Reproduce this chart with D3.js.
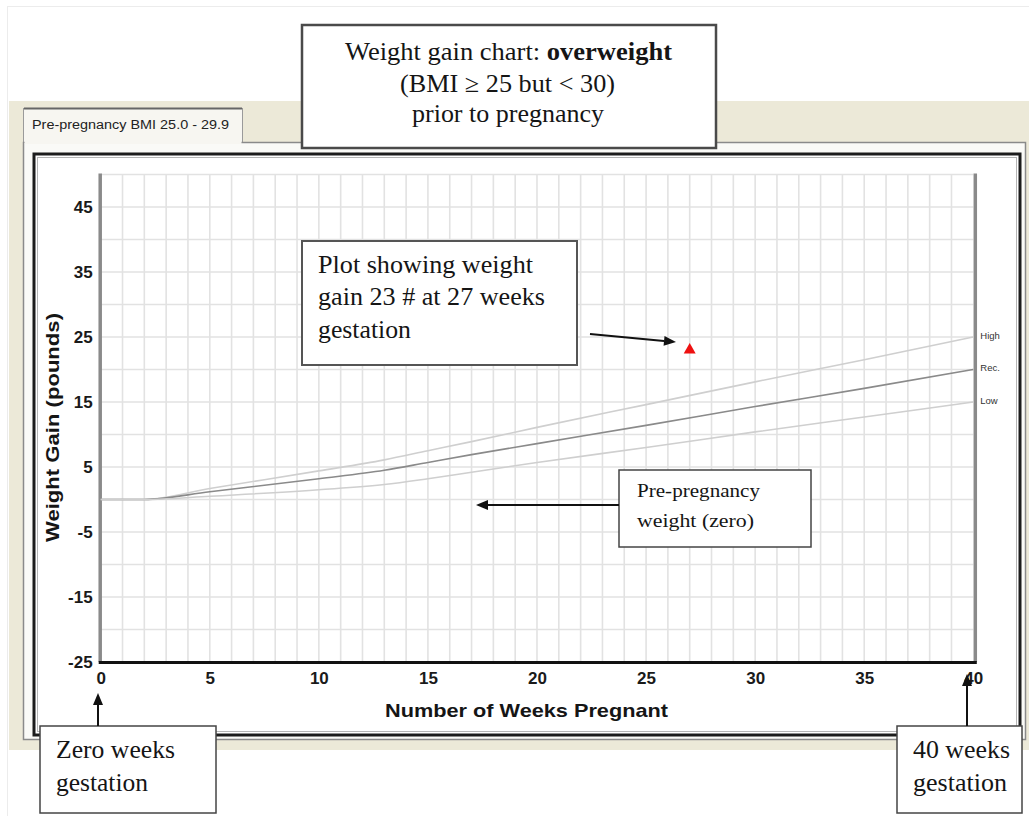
<!DOCTYPE html>
<html>
<head>
<meta charset="utf-8">
<script src="https://cdn.jsdelivr.net/npm/d3@7"></script>
<style>
  body { margin: 0; background: #fff; }
  svg { display: block; }
</style>
</head>
<body>
<div id="chart"></div>
<script>
// weight gain curves
var weeks    = [0, 2, 5, 10, 13, 15, 17, 20, 25, 30, 35, 40];
var highGain = [0, 0, 1.7, 4.4, 6.1, 7.5, 8.9, 11.1, 14.6, 18.1, 21.5, 25];
var recGain  = [0, 0, 1.2, 3.2, 4.5, 5.7, 6.9, 8.6, 11.4, 14.3, 17.1, 20];
var lowGain  = [0, 0, 0.5, 1.5, 2.3, 3.2, 4.2, 5.7, 8.0, 10.4, 12.7, 15];
var seriesNames = ['High', 'Rec.', 'Low'];

// the patient's plotted weight
var plotWeeks = [27];
var plotGains = [23];

var xTickLabels = [0, 5, 10, 15, 20, 25, 30, 35, 40];
var yTickLabels = [45, 35, 25, 15, 5, -5, -15, -25];

var width = 1029, height = 816;
var serif = '"Liberation Serif", "Times New Roman", serif';
var sans = '"Liberation Sans", Arial, sans-serif';

var svg = d3.select('#chart').append('svg')
  .attr('width', width)
  .attr('height', height);

var x = d3.scaleLinear().domain([0, 40]).range([100.7, 973.3]);
var y = d3.scaleLinear().domain([-25, 50]).range([662, 174.5]);

// helper for text lines
function label(g, px, py, str, size, len, opts) {
  opts = opts || {};
  var t = g.append('text')
    .attr('x', px)
    .attr('y', py)
    .style('font-family', opts.family || serif)
    .style('font-size', size + 'px')
    .style('font-weight', opts.weight || 'normal')
    .style('fill', opts.fill || '#151515')
    .attr('text-anchor', opts.anchor || 'start')
    .text(str);
  if (len) t.attr('textLength', len).attr('lengthAdjust', 'spacingAndGlyphs');
  return t;
}

function arrow(g, x1, y1, x2, y2) {
  var a = Math.atan2(y2 - y1, x2 - x1), L = 12, W = 5;
  var bx = x2 - L * Math.cos(a), by = y2 - L * Math.sin(a);
  g.append('line')
    .attr('x1', x1).attr('y1', y1).attr('x2', bx).attr('y2', by)
    .style('stroke', '#111').style('stroke-width', 2);
  g.append('path')
    .attr('d', 'M' + x2 + ',' + y2 +
      'L' + (bx + W * Math.sin(a)) + ',' + (by - W * Math.cos(a)) +
      'L' + (bx - W * Math.sin(a)) + ',' + (by + W * Math.cos(a)) + 'Z')
    .style('fill', '#111');
}

// window background
svg.append('rect')
  .attr('x', 7.5).attr('y', 6.5).attr('width', 1040).attr('height', 900)
  .style('fill', '#fff').style('stroke', '#ececec');

svg.append('rect')
  .attr('x', 9).attr('y', 101).attr('width', 1025).attr('height', 649)
  .style('fill', '#ece9d8');

// tab
svg.append('rect')
  .attr('x', 23.5).attr('y', 108.5).attr('width', 219).attr('height', 36)
  .style('fill', '#f7f6f1').style('stroke', '#9a9a9a');
svg.append('line')
  .attr('x1', 24).attr('x2', 242).attr('y1', 108.5).attr('y2', 108.5)
  .style('stroke', '#666').style('stroke-width', 2);
label(svg, 32, 129, 'Pre-pregnancy BMI 25.0 - 29.9', 12.5, 197, { family: sans, fill: '#222' });

// tab panel and chart frame
svg.append('rect')
  .attr('x', 23.5).attr('y', 142.5).attr('width', 1002).attr('height', 597)
  .style('fill', '#fafaf7').style('stroke', '#8a8a8a').style('stroke-width', 1.5);
svg.append('rect')
  .attr('x', 24.5).attr('y', 138).attr('width', 217).attr('height', 6)
  .style('fill', '#f7f6f1');
svg.append('rect')
  .attr('x', 34).attr('y', 154).attr('width', 986).attr('height', 581)
  .style('fill', '#fff').style('stroke', '#1c1c1c').style('stroke-width', 3);
svg.append('rect')
  .attr('x', 37.5).attr('y', 157.5).attr('width', 979).attr('height', 574)
  .style('fill', 'none').style('stroke', '#b5b5b5').style('stroke-width', 1);

// grid
var grid = svg.append('g');
grid.selectAll('.vg').data(d3.range(1, 40)).enter().append('line')
  .attr('x1', function(d) { return x(d); })
  .attr('x2', function(d) { return x(d); })
  .attr('y1', y(50)).attr('y2', y(-25))
  .style('stroke', '#e2e2e2').style('stroke-width', 1.6);
grid.selectAll('.hg').data(d3.range(-20, 55, 5)).enter().append('line')
  .attr('x1', x(0)).attr('x2', x(40))
  .attr('y1', function(d) { return y(d); })
  .attr('y2', function(d) { return y(d); })
  .style('stroke', '#e2e2e2').style('stroke-width', 1.6);

// axes lines
svg.append('line')
  .attr('x1', x(0) - 0.5).attr('x2', x(0) - 0.5).attr('y1', y(50) - 1).attr('y2', y(-25))
  .style('stroke', '#8a8a8a').style('stroke-width', 3.5);
svg.append('line')
  .attr('x1', x(40) + 2).attr('x2', x(40) + 2).attr('y1', y(50) - 1).attr('y2', y(-25))
  .style('stroke', '#8a8a8a').style('stroke-width', 3.5);
svg.append('line')
  .attr('x1', x(0) - 2).attr('x2', x(40) + 3.5).attr('y1', y(-25) + 0.5).attr('y2', y(-25) + 0.5)
  .style('stroke', '#111').style('stroke-width', 3);

// tick labels (plain hyphen for negatives, as in the original)
var fmt = function(d) { return String(d); };
var xAxis = svg.append('g')
  .attr('transform', 'translate(0,' + (y(-25) + 3) + ')')
  .call(d3.axisBottom(x).tickValues(xTickLabels).tickFormat(fmt).tickSize(0).tickPadding(3));
var yAxis = svg.append('g')
  .attr('transform', 'translate(' + (x(0) - 8) + ',0)')
  .call(d3.axisLeft(y).tickValues(yTickLabels).tickFormat(fmt).tickSize(0).tickPadding(0));
[xAxis, yAxis].forEach(function(ax) {
  ax.select('.domain').remove();
  ax.selectAll('text')
    .style('font-family', sans)
    .style('font-size', '17px')
    .style('font-weight', 'bold')
    .style('fill', '#1a1a1a');
});
xAxis.selectAll('text').attr('dy', '0.95em');

// axis titles
label(svg, 385, 717, 'Number of Weeks Pregnant', 18.5, 283, { family: sans, weight: 'bold' });
label(svg, 0, 0, 'Weight Gain (pounds)', 18.5, 229, { family: sans, weight: 'bold', anchor: 'middle' })
  .attr('transform', 'translate(59,427.5) rotate(-90)');

// curves
var series = [highGain, recGain, lowGain];
var colors = ['#cfcfcf', '#8a8a8a', '#cfcfcf'];
var line = d3.line()
  .x(function(d, i) { return x(weeks[i]); })
  .y(function(d) { return y(d); })
  .curve(d3.curveMonotoneX);

svg.selectAll('.curve').data(series).enter().append('path')
  .attr('d', line)
  .style('fill', 'none')
  .style('stroke', function(d, i) { return colors[i]; })
  .style('stroke-width', 1.6);

svg.selectAll('.sname').data(series).enter().append('text')
  .attr('x', x(40) + 7)
  .attr('y', function(d) { return y(d[d.length - 1]) + 1.5; })
  .style('font-family', sans)
  .style('font-size', '9.5px')
  .style('fill', '#333')
  .text(function(d, i) { return seriesNames[i]; });

// plotted point
svg.selectAll('.pt').data(plotWeeks).enter().append('path')
  .attr('d', d3.symbol().type(d3.symbolTriangle).size(62))
  .attr('transform', function(d, i) { return 'translate(' + x(d) + ',' + y(plotGains[i]) + ')'; })
  .style('fill', '#ee1111');

// title box
var tb = svg.append('g');
tb.append('rect')
  .attr('x', 302).attr('y', 25).attr('width', 414).attr('height', 123)
  .style('fill', '#fff').style('stroke', '#4a4a4a').style('stroke-width', 2.5);
var t1 = label(tb, 345, 60, '', 25, 327);
t1.append('tspan').text('Weight gain chart: ');
t1.append('tspan').style('font-weight', 'bold').text('overweight');
label(tb, 400, 92, '(BMI \u2265 25 but < 30)', 25, 215);
label(tb, 412, 122, 'prior to pregnancy', 25, 192);

// annotation: plot
var a1 = svg.append('g');
a1.append('rect')
  .attr('x', 302).attr('y', 241).attr('width', 275).attr('height', 124)
  .style('fill', '#fff').style('stroke', '#555').style('stroke-width', 2);
label(a1, 318, 273, 'Plot showing weight', 25, 215);
label(a1, 318, 305, 'gain 23 # at 27 weeks', 25, 227);
label(a1, 318, 338, 'gestation', 25, 93);
arrow(svg, 590, 334, 676, 342);

// annotation: zero line
var a2 = svg.append('g');
a2.append('rect')
  .attr('x', 619).attr('y', 470).attr('width', 192).attr('height', 77)
  .style('fill', '#fff').style('stroke', '#444').style('stroke-width', 1.5);
label(a2, 637, 497, 'Pre-pregnancy', 19, 123);
label(a2, 637, 527, 'weight (zero)', 19, 117);
arrow(svg, 619, 505, 476, 505);

// bottom notes
var a3 = svg.append('g');
a3.append('rect')
  .attr('x', 40).attr('y', 726).attr('width', 176).attr('height', 87)
  .style('fill', '#fff').style('stroke', '#444').style('stroke-width', 1.5);
label(a3, 56, 758, 'Zero weeks', 25, 119);
label(a3, 56, 791, 'gestation', 25, 92);
arrow(svg, 98, 726, 98, 693);

var a4 = svg.append('g');
a4.append('rect')
  .attr('x', 897).attr('y', 726).attr('width', 125).attr('height', 87)
  .style('fill', '#fff').style('stroke', '#444').style('stroke-width', 1.5);
label(a4, 913, 758, '40 weeks', 25, 97);
label(a4, 913, 791, 'gestation', 25, 94);
arrow(svg, 967, 726, 967, 674);
</script>
</body>
</html>
